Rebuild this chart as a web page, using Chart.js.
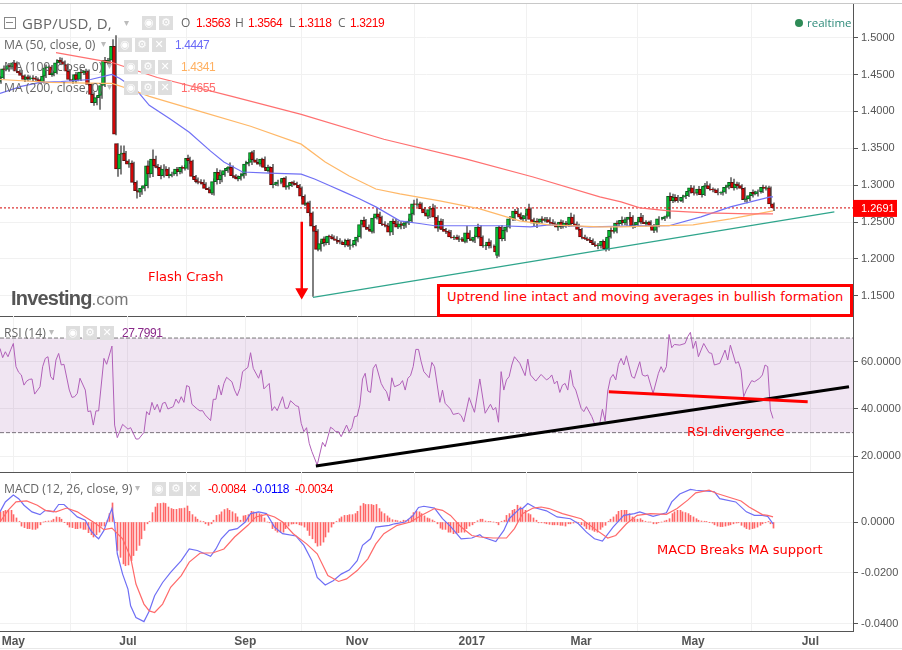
<!DOCTYPE html>
<html lang="en">
<head>
  <meta charset="UTF-8">
  <title>GBP/USD, D</title>
  <script src="https://cdn.jsdelivr.net/npm/chart.js"></script>
  <style>
    html, body { margin: 0; padding: 0; background: #fff; }
    body { width: 902px; height: 650px; overflow: hidden; position: relative; font-family: "Open Sans", sans-serif; }
    .pane { position: absolute; left: 0; width: 902px; }
    .t { position: absolute; white-space: nowrap; line-height: 16px; color: #666; font-size: 12.2px; z-index: 5; }
    .v { font: 12px/16px "Liberation Sans", sans-serif; letter-spacing: -.4px; }
    .ib { position: absolute; width: 14px; height: 14px; background: #dedede; color: #fff; font: bold 11px/14px "DejaVu Sans", sans-serif; text-align: center; z-index: 5; }
    .note { position: absolute; white-space: nowrap; color: #f00; font: 13px/16px "DejaVu Sans", sans-serif; z-index: 6; }
    .rule { position: absolute; left: 0; width: 902px; height: 1px; }
    #callout { position: absolute; left: 437px; top: 284px; width: 410px; height: 27px; border: 3px solid #f00; background: #fff; z-index: 4; }
  </style>
</head>
<body>
  <div class="rule" style="top:3px;background:#c8c8c8"></div>
  <div class="rule" style="top:648px;background:#e8e8e8"></div>

  <div class="pane" style="top:4px;height:313px"><canvas id="priceChart"></canvas></div>
  <div class="pane" style="top:316px;height:157px"><canvas id="rsiChart"></canvas></div>
  <div class="pane" style="top:472px;height:178px"><canvas id="macdChart"></canvas></div>

  <!-- header row -->
  <div style="position:absolute;left:4px;top:17px;width:10px;height:10px;border:1px solid #888;z-index:5"></div>
  <div style="position:absolute;left:6px;top:22px;width:7px;height:1px;background:#888;z-index:5"></div>
  <div class="t" style="left:22px;top:15px;font:15px/16px 'Open Sans',sans-serif;letter-spacing:.2px">GBP/USD, D,</div>
  <div class="t" style="left:124px;top:14px;color:#bbb;font-size:10px">▾</div>
  <div class="ib" style="left:142px;top:16px">◉</div><div class="ib" style="left:159px;top:16px">⚙</div>
  <div class="t" style="left:181px;top:15px;font-size:12px;color:#666">O</div>
  <div class="t v" style="left:196px;top:15px;color:#f00">1.3563</div>
  <div class="t" style="left:235px;top:15px;font-size:12px;color:#666">H</div>
  <div class="t v" style="left:248px;top:15px;color:#f00">1.3564</div>
  <div class="t" style="left:289px;top:15px;font-size:12px;color:#666">L</div>
  <div class="t v" style="left:298px;top:15px;color:#f00">1.3118</div>
  <div class="t" style="left:338px;top:15px;font-size:12px;color:#666">C</div>
  <div class="t v" style="left:350px;top:15px;color:#f00">1.3219</div>
  <div style="position:absolute;left:795px;top:19px;width:8px;height:8px;border-radius:50%;background:#2e8b57;z-index:5"></div>
  <div class="t" style="left:807px;top:15px;font-size:11.5px;color:#2e8b7a">realtime</div>

  <!-- moving average legend -->
  <div class="t" style="left:4px;top:37px">MA (50, close, 0)</div>
  <div class="t" style="left:101px;top:35px;color:#bbb;font-size:10px">▾</div>
  <div class="ib" style="left:118px;top:38px">◉</div><div class="ib" style="left:135px;top:38px">⚙</div><div class="ib" style="left:152px;top:38px">✕</div>
  <div class="t v" style="left:175px;top:37px;color:#6a6af7">1.4447</div>
  <div class="t" style="left:4px;top:59px">MA (100, close, 0)</div>
  <div class="t" style="left:107px;top:57px;color:#bbb;font-size:10px">▾</div>
  <div class="ib" style="left:124px;top:60px">◉</div><div class="ib" style="left:141px;top:60px">⚙</div><div class="ib" style="left:158px;top:60px">✕</div>
  <div class="t v" style="left:181px;top:59px;color:#ffb060">1.4341</div>
  <div class="t" style="left:4px;top:80px">MA (200, close, 0)</div>
  <div class="t" style="left:107px;top:78px;color:#bbb;font-size:10px">▾</div>
  <div class="ib" style="left:124px;top:81px">◉</div><div class="ib" style="left:141px;top:81px">⚙</div><div class="ib" style="left:158px;top:81px">✕</div>
  <div class="t v" style="left:181px;top:80px;color:#ff6b6b">1.4655</div>

  <!-- RSI legend -->
  <div class="t" style="left:4px;top:325px">RSI (14)</div>
  <div class="t" style="left:49px;top:323px;color:#bbb;font-size:10px">▾</div>
  <div class="ib" style="left:66px;top:326px">◉</div><div class="ib" style="left:83px;top:326px">⚙</div><div class="ib" style="left:100px;top:326px">✕</div>
  <div class="t v" style="left:122px;top:325px;color:#8a2a8a">27.7991</div>

  <!-- MACD legend -->
  <div class="t" style="left:4px;top:481px">MACD (12, 26, close, 9)</div>
  <div class="t" style="left:135px;top:479px;color:#bbb;font-size:10px">▾</div>
  <div class="ib" style="left:152px;top:482px">◉</div><div class="ib" style="left:169px;top:482px">⚙</div><div class="ib" style="left:186px;top:482px">✕</div>
  <div class="t v" style="left:208px;top:481px;color:#f00">-0.0084</div>
  <div class="t v" style="left:252px;top:481px;color:#00f">-0.0118</div>
  <div class="t v" style="left:295px;top:481px;color:#f00">-0.0034</div>

  <!-- notes added on the chart -->
  <div class="t" style="left:11px;top:286px;line-height:24px;font:bold 20px/24px 'Liberation Sans',sans-serif;color:#555;letter-spacing:-.8px">Investing<span style="font:17px/24px 'Liberation Sans',sans-serif;letter-spacing:0;color:#777">.com</span></div>
  <div class="note" style="left:148px;top:269px">Flash Crash</div>
  <div id="callout"></div>
  <div class="note" style="left:447px;top:289px">Uptrend line intact and moving averages in bullish formation</div>
  <div class="note" style="left:687px;top:424px">RSI divergence</div>
  <div class="note" style="left:657px;top:542px">MACD Breaks MA support</div>

  <script>
    // x axis runs in bars, one bar per trading day from May 2016
    const xMax = 320;
    const xTickBars = [5, 48, 92, 134, 177, 218, 260, 304];
    const xTickLabels = ['May', 'Jul', 'Sep', 'Nov', '2017', 'Mar', 'May', 'Jul'];

    const priceTicks = [1.15, 1.2, 1.25, 1.3, 1.35, 1.4, 1.45, 1.5];
    const rsiTicks = [20, 40, 60];
    const macdTicks = [-0.04, -0.02, 0];

    const closes = [
      1.4456,1.4577,1.4568,1.4622,1.4604,1.4658,1.4545,1.4523,1.4487,1.4433,
      1.4469,1.4442,1.4456,1.4442,1.4433,1.4397,1.4478,1.4591,1.4604,1.4500,
      1.4523,1.4658,1.4694,1.4672,1.4636,1.4545,1.4433,1.4411,1.4500,1.4433,
      1.4532,1.4523,1.4545,1.4366,1.4231,1.4118,1.4186,1.4217,1.4352,1.4694,
      1.4658,1.4694,1.4883,1.3691,1.3219,1.3420,1.3434,1.3331,1.3286,1.3299,
      1.3038,1.2925,1.2903,1.2957,1.2993,1.3263,1.3151,1.3353,1.3263,1.3241,
      1.3128,1.3218,1.3218,1.3128,1.3151,1.3151,1.3218,1.3182,1.3241,1.3227,
      1.3362,1.3331,1.3119,1.3074,1.3047,1.3038,1.3016,1.2957,1.2939,1.2890,
      1.3047,1.3173,1.3074,1.3137,1.3196,1.3227,1.3241,1.3128,1.3106,1.3083,
      1.3120,1.3151,1.3286,1.3308,1.3443,1.3344,1.3308,1.3286,1.3353,1.3241,
      1.3196,1.3241,1.3007,1.3016,1.3038,1.3038,1.3092,1.2971,1.2993,1.3038,
      1.3025,1.3002,1.2962,1.2849,1.2737,1.2759,1.2624,1.2444,1.2372,1.2129,
      1.2206,1.2273,1.2219,1.2309,1.2296,1.2273,1.2251,1.2228,1.2228,1.2192,
      1.2251,1.2183,1.2192,1.2251,1.2296,1.2466,1.2521,1.2431,1.2399,1.2372,
      1.2552,1.2611,1.2566,1.2476,1.2462,1.2444,1.2363,1.2512,1.2476,1.2431,
      1.2476,1.2453,1.2484,1.2512,1.2611,1.2746,1.2737,1.2746,1.2678,1.2624,
      1.2579,1.2669,1.2687,1.2566,1.2417,1.2512,1.2399,1.2372,1.2363,1.2296,
      1.2287,1.2296,1.2264,1.2273,1.2237,1.2354,1.2273,1.2251,1.2296,1.2431,
      1.2296,1.2174,1.2179,1.2228,1.2174,1.2174,1.2093,1.2431,1.2273,1.2386,
      1.2431,1.2543,1.2552,1.2647,1.2611,1.2566,1.2543,1.2588,1.2678,1.2534,
      1.2484,1.2512,1.2498,1.2543,1.2521,1.2534,1.2498,1.2484,1.2476,1.2431,
      1.2498,1.2440,1.2484,1.2467,1.2566,1.2476,1.2453,1.2399,1.2296,1.2282,
      1.2273,1.2251,1.2219,1.2192,1.2174,1.2183,1.2237,1.2138,1.2296,1.2386,
      1.2372,1.2485,1.2476,1.2521,1.2489,1.2534,1.2566,1.2444,1.2462,1.2498,
      1.2566,1.2498,1.2476,1.2498,1.2453,1.2386,1.2453,1.2543,1.2543,1.2566,
      1.2575,1.2849,1.2791,1.2836,1.2791,1.2791,1.2836,1.2858,1.2917,1.2962,
      1.2894,1.2890,1.2948,1.2872,1.2984,1.2993,1.2948,1.2939,1.2935,1.2894,
      1.2894,1.2903,1.2970,1.2993,1.3038,1.2962,1.3015,1.2993,1.2957,1.2804,
      1.2813,1.2858,1.2903,1.2881,1.2912,1.2912,1.2970,1.2957,1.2962,1.2746,
      1.2691
    ];
    // opens follow the previous close except where the market gapped
    const firstOpen = 1.4400;
    const gapBars = [44, 187];
    const gapOpens = [1.3563, 1.2048];

    // wick lengths above and below the candle body, in pips
    const upperWicks = [
      20,40,25,30,15,35,15,20,30,10, 25,15,30,20,15,10,30,40,15,20,
      25,45,35,30,15,10,25,10,30,20, 40,15,30,20,10,25,15,20,30,40,
      25,30,90,144,1,113,100,25,15,30, 15,20,15,25,20,67,60,126,40,20,
      25,60,35,20,25,30,25,15,20,30, 45,20,10,15,25,30,35,20,15,20,
      40,50,30,35,30,25,60,20,15,20, 45,30,40,45,20,30,15,25,15,30,
      30,10,40,25,30,35,10,25,30,10, 20,15,10,15,20,15,25,15,10,25,
      35,25,20,15,20,15,30,25,15,40, 20,15,20,30,25,60,45,15,30,15,
      30,70,25,15,30,20,15,30,25,35, 30,20,25,30,25,50,70,25,15,20,
      30,45,55,35,20,30,25,15,20,25, 20,25,15,20,25,90,30,15,25,40,
      20,15,15,45,20,15,55,15,25,30, 30,35,20,25,40,15,25,30,65,15,
      20,35,25,30,20,30,25,35,20,15, 30,20,25,15,55,30,25,20,15,25,
      15,20,20,15,20,25,20,30,35,40, 45,30,35,50,40,30,65,20,30,35,
      50,25,20,15,20,15,25,30,20,15, 25,45,30,35,25,35,30,35,40,35,
      30,25,35,25,40,55,25,15,10,20, 15,25,30,40,65,45,25,20,15,10,
      25,20,35,15,25,30,30,20,25,15, 15
    ];
    const lowerWicks = [
      20,15,20,25,30,15,20,25,15,30, 20,15,35,25,20,25,15,20,30,25,
      20,15,25,15,20,25,15,30,25,20, 15,25,20,15,30,35,30,158,40,15,
      20,15,15,10,101,70,25,40,45,40, 30,103,60,30,35,30,45,35,30,25,
      45,20,30,30,15,20,25,30,20,25, 15,35,25,45,30,25,30,20,40,20,
      25,35,55,30,20,25,20,30,20,25, 15,25,20,25,30,15,25,30,35,20,
      20,40,45,15,25,20,35,30,25,15, 25,30,20,35,15,25,40,954,30,20,
      25,35,30,25,30,15,45,25,30,30, 25,55,25,15,20,15,25,30,15,25,
      20,15,50,25,30,25,45,35,40,20, 25,45,25,20,15,15,25,30,20,15,
      35,20,15,30,45,20,25,30,20,15, 25,20,30,25,20,15,25,20,30,15,
      30,20,50,35,25,20,80,15,30,25, 20,15,25,30,20,35,30,40,25,20,
      35,60,25,15,20,25,30,30,40,45, 20,25,15,30,25,20,30,15,25,20,
      25,30,20,25,40,30,20,35,25,15, 25,20,25,20,30,35,25,30,20,15,
      25,20,30,25,35,30,25,20,15,25, 15,25,30,20,25,15,25,20,15,25,
      30,25,20,35,15,25,20,30,15,25, 20,30,15,20,25,30,15,25,20,30,
      45,25,20,15,30,20,15,25,20,25, 36
    ];

    const ma50Bars = [0,8,15,23,34,42,45,51,56,64,71,79,84,91,101,113,118,124,129,135,141,150,158,163,176,188,199,206,221,240,251,263,274,289,290];
    const ma50Values = [1.4244,1.4339,1.4393,1.4406,1.4433,1.4501,1.4447,1.4298,1.4082,1.3893,1.3718,1.3461,1.3313,1.3178,1.3164,1.3150,1.3083,1.2989,1.2908,1.2813,1.2705,1.2516,1.2476,1.2449,1.2449,1.2449,1.2435,1.2462,1.2435,1.2449,1.2449,1.2570,1.2705,1.2840,1.2840];
    const ma100Bars = [0,19,38,42,49,56,75,94,113,122,131,141,150,165,180,195,206,225,233,260,274,290];
    const ma100Values = [1.4433,1.4393,1.4379,1.4379,1.4298,1.4204,1.4001,1.3799,1.3556,1.3313,1.3124,1.2948,1.2881,1.2786,1.2678,1.2516,1.2462,1.2435,1.2435,1.2462,1.2543,1.2651];
    const ma200Bars = [21,42,59,87,113,144,175,200,225,233,240,251,265,281,290];
    const ma200Values = [1.4798,1.4663,1.4460,1.4204,1.3960,1.3623,1.3353,1.3110,1.2840,1.2773,1.2692,1.2651,1.2624,1.2611,1.2611];

    const lastPrice = 1.2691;
    const trendBars = [117.4, 313];
    const trendValues = [1.1477, 1.2638];
    const arrowBars = [113.2, 113.2];
    const arrowValues = [1.2503, 1.1550];

    const rsiBars = [0,1,2,3,4,5,6,7,8,9,10,11,12,13,15,16,17,18,19,20,21,22,23,24,26,27,28,29,30,32,33,34,35,36,37,39,40,42,43,44,46,48,49,51,52,54,55,56,57,58,59,60,61,62,63,65,66,67,68,69,70,71,72,74,75,76,77,79,80,81,82,83,84,85,87,88,89,90,91,93,94,95,97,98,99,101,102,103,104,106,107,108,109,111,112,113,114,115,116,117,119,121,122,124,125,126,127,128,130,131,132,133,134,135,136,137,138,139,140,141,143,144,145,146,147,148,150,151,152,153,154,155,156,157,158,159,161,162,163,165,166,167,169,170,172,173,174,176,178,180,182,184,185,186,187,188,189,190,191,192,193,195,197,198,199,201,203,205,206,207,208,209,210,211,212,213,214,215,216,218,219,220,222,223,225,226,227,228,229,230,231,232,233,234,235,237,238,240,241,242,243,245,247,248,249,250,251,252,253,255,257,258,259,260,261,262,264,266,267,268,270,272,273,274,276,277,278,279,280,282,283,285,286,287,288,289,290];
    const rsiValues = [65.6,61.7,64.2,62.1,65,67.7,57.9,55.5,54.4,50.1,51.8,52.5,52.7,46.3,49.4,57.9,61.4,62.1,53.7,52.3,60.7,63.5,58.6,58.9,48,44.9,45.2,46.6,53,48,38.9,39.2,33.2,39.2,39.2,61.4,58.9,66.6,33.2,27.9,33.5,31.5,32.1,27.3,27.3,30.1,38.9,37.5,42.8,39.6,42,38.6,42.4,42.8,40,41,44.2,42.4,45.2,42.8,49.9,49.4,42,40,39.2,39.3,37.5,35.1,44.1,44.1,50.1,45.9,50.8,53.4,51.5,48,45.6,48.7,55.8,57.6,63.8,57.2,53,56.5,48.5,50.8,39.3,41,39.3,45.2,40.3,40.3,43.5,41.4,41,33.9,30.4,32.1,25.5,22,16.3,25.9,24.1,32.3,31.5,30.4,30.4,28.3,33.2,30.4,32.1,36.8,37,41.7,52.7,55.1,47.6,47,57.2,58.9,50.8,48.7,47.3,43.4,53.2,49.4,50.4,52,48,53,54.1,57.9,65.2,65.2,60,55.8,53.2,59.7,57.9,42.8,48,42.4,40,37.7,38.2,37.2,34.6,44.8,38.6,52.7,38.2,42,39.6,40.6,34.4,55.8,48,52.3,53.7,58.6,62.1,59.3,54.1,61.1,54.4,51.8,54.6,52.3,53,54.4,50.6,51.8,47,50.1,50.8,48,56.5,49.9,48,40.3,38.9,41,36.8,33.9,33.9,39.9,34.9,47.6,53,54.6,52.3,58.9,61.4,58.6,62.5,53.7,53,60,54.4,53.9,54.4,46.6,55.1,57.9,55.5,57.9,71.5,65.9,67.3,67,67.7,70.6,72.4,65.6,68.7,62.1,67.7,63.8,63.5,58.6,59.3,64.9,60.7,67,59.3,60,56.5,45.2,48,52,51.5,53,54.4,58.6,57.9,39.6,36];
    const rsiBandTop = 70;
    const rsiBandBottom = 30;
    const rsiTrendBars = [118.5, 318.5];
    const rsiTrendValues = [15.9, 49.4];
    const rsiBreakBars = [228.4, 303];
    const rsiBreakValues = [47.3, 43.1];

    // MACD figures are in pips, scaled down when the datasets are built
    const macdBars = [0,2,5,7,9,12,15,17,20,22,24,27,29,32,34,36,37,39,41,42,43,44,46,48,49,51,54,56,58,61,64,68,71,74,79,81,83,86,89,92,94,97,100,103,106,111,114,117,119,122,125,128,131,134,136,139,141,146,148,152,155,157,159,163,166,169,173,177,180,181,186,189,191,195,196,198,201,205,209,214,217,220,223,226,230,234,238,240,245,250,252,255,259,261,268,270,276,280,283,286,288,290];
    const macdValues = [40,79,106,92,66,40,29,46,40,69,69,40,20,7,-33,-57,-66,-33,26,53,-7,-125,-205,-264,-330,-376,-392,-350,-290,-238,-198,-152,-106,-112,-135,-106,-66,-33,-26,0,33,40,33,-20,-46,-55,-92,-152,-218,-248,-231,-205,-189,-152,-92,-66,-20,-13,-7,0,26,57,62,55,13,-17,-66,-63,-50,-59,-77,-33,13,53,53,73,55,44,20,13,-7,-40,-66,-75,-20,26,33,40,22,36,79,110,128,125,119,92,79,40,26,26,22,-7];
    const signalBars = [0,3,6,10,14,17,21,25,29,32,36,39,42,46,49,51,54,56,58,61,64,68,71,75,80,84,88,93,96,100,103,106,110,115,119,123,127,130,134,138,141,144,149,154,158,163,166,169,173,177,180,185,190,193,196,200,203,206,211,218,223,228,231,235,239,244,250,254,258,261,266,269,278,281,286,288,290];
    const signalValues = [0,46,79,83,66,46,40,55,40,20,-7,-30,-24,-66,-139,-244,-323,-350,-356,-323,-257,-211,-158,-123,-121,-106,-59,-13,20,30,20,0,-46,-86,-125,-211,-234,-224,-191,-145,-86,-46,-13,0,26,53,46,26,-20,-53,-59,-63,-63,-26,33,55,59,53,33,13,-26,-63,-53,-7,26,33,30,53,86,115,125,112,83,59,29,26,20];
    const macdHist = [
      40,42,46,46,46,29,16,3,-16,-22, -26,-26,-29,-29,-24,-11,0,3,4,5,
      11,20,18,11,-1,-11,-20,-22,-26,-26, -24,-29,-29,-42,-50,-59,-50,-40,-16,-16,
      7,33,75,-3,-112,-139,-165,-172,-169,-152, -132,-112,-92,-66,-33,-7,3,37,59,73,
      73,75,73,59,53,50,50,53,53,55, 63,42,29,20,11,4,1,-7,-13,-7,
      7,26,29,40,49,53,46,40,33,20, 7,24,26,29,42,40,37,33,29,16,
      0,-3,-26,-33,-40,-40,-40,-26,-16,-8, -7,-7,-11,-13,-20,-33,-53,-66,-82,-95,
      -92,-79,-59,-40,-20,-7,3,13,20,26, 26,29,29,33,42,63,73,69,69,69,
      66,69,53,40,33,24,16,9,7,5, 3,7,5,11,24,37,42,40,33,24,
      16,13,8,3,-7,-24,-29,-29,-40,-40, -46,-46,-42,-40,-40,-26,-16,-11,-3,5,
      11,11,4,1,1,0,-3,-11,3,7, 26,33,46,50,66,59,50,46,33,29,
      16,7,-3,-3,-4,-7,-9,-11,-11,-11, -13,-13,-16,-7,-7,-4,0,-3,-11,-16,
      -26,-29,-32,-37,-40,-29,-20,-13,3,11, 20,29,42,46,46,46,33,20,13,11,
      13,7,3,0,0,-7,-7,-3,0,4, 7,13,33,40,46,46,40,37,33,26,
      20,13,7,4,3,1,-1,-4,-11,-16, -18,-18,-16,-13,-11,-7,-4,-3,-13,-20,
      -26,-29,-26,-24,-20,-13,-7,-3,1,-7, -24
    ];

    const pts = (xs, ys) => xs.map((x, i) => ({ x, y: ys[i] }));

    // plot is 853px wide, nudge bars onto whole pixels so thin ones stay crisp
    const pxPerBar = 853 / xMax;
    const snapBar = i => (Math.round(i * pxPerBar) + 0.5) / pxPerBar;

    // chart.js reserves room for half a tick label, we want the plot edge to edge
    function noPadding(s) {
      s.paddingTop = s.paddingBottom = s.paddingLeft = s.paddingRight = 0;
    }

    // shared bits of the three panes
    function xScale(showLabels) {
      return {
        type: 'linear', min: 0, max: xMax, offset: false,
        afterBuildTicks(s) { s.ticks = xTickBars.map(value => ({ value })); },
        afterFit(s) { noPadding(s); s.height = showLabels ? 19 : 0; },
        grid: { color: '#f1f1f1', drawTicks: false },
        border: { display: true, color: '#555' },
        ticks: {
          display: showLabels, autoSkip: false, maxRotation: 0, padding: 3,
          color: '#555', font: { family: 'Liberation Sans', size: 12, weight: 'bold' },
          callback(v) { return xTickLabels[xTickBars.indexOf(v)]; }
        }
      };
    }

    function yScale(min, max, tickValues, digits) {
      return {
        position: 'right', min, max,
        afterBuildTicks(s) { s.ticks = tickValues.map(value => ({ value })); },
        afterFit(s) { noPadding(s); s.width = 49; },
        grid: { color: '#f1f1f1', tickColor: '#555', tickLength: 5 },
        border: { color: '#555' },
        ticks: {
          autoSkip: false, padding: 3, color: '#555',
          font: { family: 'Liberation Sans', size: 11 },
          callback: v => v.toFixed(digits)
        }
      };
    }

    function baseOptions(scales, bottom) {
      return {
        responsive: false, animation: false, maintainAspectRatio: false,
        layout: { autoPadding: false, padding: { left: 0, right: 0, top: 0, bottom } },
        plugins: { legend: { display: false }, tooltip: { enabled: false } },
        scales
      };
    }

    function line(data, color, width, extra) {
      return Object.assign({ type: 'line', data, borderColor: color, borderWidth: width, pointRadius: 0, tension: 0, fill: false, order: 1 }, extra);
    }

    function sizeCanvas(id, h) {
      const c = document.getElementById(id);
      c.width = 902; c.height = h;
      c.style.width = '902px'; c.style.height = h + 'px';
      return c;
    }

    // price pane
    const opens = closes.map((c, i) => {
      const gap = gapBars.indexOf(i);
      if (gap >= 0) return gapOpens[gap];
      return i === 0 ? firstOpen : closes[i - 1];
    });
    const bodies = closes.map((c, i) => ({ x: snapBar(i), y: [opens[i], c] }));
    const wicks = closes.map((c, i) => ({
      x: snapBar(i),
      y: [Math.min(opens[i], c) - lowerWicks[i] / 10000, Math.max(opens[i], c) + upperWicks[i] / 10000]
    }));
    const isUp = closes.map((c, i) => c >= opens[i]);

    const priceTag = {
      id: 'priceTag',
      afterDraw(chart) {
        const { ctx, scales } = chart;
        const y = scales.y.getPixelForValue(lastPrice);
        ctx.save();
        ctx.fillStyle = '#f00';
        ctx.fillRect(853, y - 8, 44, 17);
        ctx.fillStyle = '#fff';
        ctx.font = '11px "Liberation Sans"';
        ctx.textBaseline = 'middle';
        ctx.fillText(lastPrice.toFixed(4), 861, y + 1);
        ctx.restore();
      }
    };

    new Chart(sizeCanvas('priceChart', 313), {
      type: 'bar',
      data: {
        datasets: [
          { data: wicks, backgroundColor: '#666', barThickness: 1, order: 4 },
          {
            data: bodies, barThickness: 3, order: 3, borderWidth: 1, borderSkipped: false,
            backgroundColor: isUp.map(u => u ? '#00c832' : '#e60000'),
            borderColor: isUp.map(u => u ? '#0b5a1c' : '#5a0a0a')
          },
          line(pts(ma200Bars, ma200Values), '#ff7070', 1.2),
          line(pts(ma100Bars, ma100Values), '#ffb868', 1.2),
          line(pts(ma50Bars, ma50Values), '#7070f5', 1.2),
          line(pts(trendBars, trendValues), '#2fa58c', 1.3),
          line(pts([0, xMax], [lastPrice, lastPrice]), '#d40000', 1, { borderDash: [2, 2] }),
          line(pts(arrowBars, arrowValues), '#f00', 2.5, {
            pointRadius: [0, 5], pointStyle: 'triangle', pointRotation: 180,
            pointBackgroundColor: '#f00', pointBorderColor: '#f00', order: 0
          })
        ]
      },
      options: baseOptions({ x: xScale(false), y: yScale(1.1225, 1.5457, priceTicks, 4) }, 1),
      plugins: [priceTag]
    });

    // RSI pane
    new Chart(sizeCanvas('rsiChart', 157), {
      type: 'line',
      data: {
        datasets: [
          line(pts([0, xMax], [rsiBandTop, rsiBandTop]), '#777', 1, {
            borderDash: [4, 2], fill: '+1', backgroundColor: 'rgba(136,51,153,.13)', order: 3
          }),
          line(pts([0, xMax], [rsiBandBottom, rsiBandBottom]), '#777', 1, { borderDash: [4, 2], order: 3 }),
          line(pts(rsiBars, rsiValues), '#b060b8', 1, { order: 2 }),
          line(pts(rsiTrendBars, rsiTrendValues), '#000', 3, { order: 1 }),
          line(pts(rsiBreakBars, rsiBreakValues), '#f00', 3, { order: 0 })
        ]
      },
      options: baseOptions({ x: xScale(false), y: yScale(13.36, 79.32, rsiTicks, 4) }, 1)
    });

    // MACD pane
    new Chart(sizeCanvas('macdChart', 178), {
      type: 'bar',
      data: {
        datasets: [
          { data: macdHist.map((v, i) => ({ x: snapBar(i), y: v / 10000 })), backgroundColor: '#ff6666', barThickness: 1, order: 3 },
          line(pts(macdBars, macdValues.map(v => v / 10000)), '#6f6ff5', 1.2, { order: 2 }),
          line(pts(signalBars, signalValues.map(v => v / 10000)), '#ff6a6a', 1.2, { order: 1 })
        ]
      },
      options: baseOptions({ x: xScale(true), y: yScale(-0.04289, 0.01968, macdTicks, 4) }, 0)
    });
  </script>
</body>
</html>
